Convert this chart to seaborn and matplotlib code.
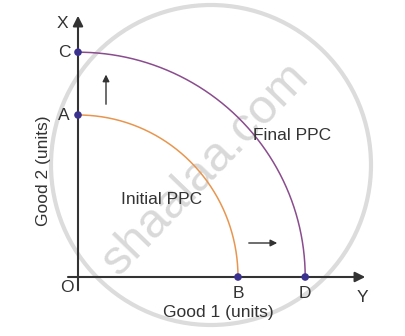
import numpy as np
import pandas as pd
import matplotlib
matplotlib.use("Agg")
import matplotlib.pyplot as plt
import seaborn as sns
from matplotlib.patches import Circle

sns.set_theme(style="white")
plt.rcParams['font.family'] = ['Liberation Sans', 'DejaVu Sans']

# ---- data (units of goods) ----
curve_names = ["Initial PPC", "Final PPC"]
good1_max = [4.0, 5.68]      # x-intercepts (B, D)
good2_max = [4.05, 5.62]     # y-intercepts (A, C)
point_labels_x = ["B", "D"]
point_labels_y = ["A", "C"]
curve_colors = ["#e8964f", "#8a4c8e"]

rows = []
t = np.linspace(0, np.pi / 2, 200)
for name, gx, gy in zip(curve_names, good1_max, good2_max):
    for tt in t:
        rows.append({"curve": name, "good1": gx * np.cos(tt), "good2": gy * np.sin(tt)})
df = pd.DataFrame(rows)

pts = pd.DataFrame({
    "good1": good1_max + [0, 0],
    "good2": [0, 0] + good2_max,
})

fig = plt.figure(figsize=(4.05, 3.36), dpi=100)
ax = fig.add_axes([0, 0, 1, 1])

# watermark
ax.add_patch(Circle((3.325, 2.8), 4.0, fill=False, ec="#dcdcdc", lw=3, zorder=0))
ax.text(3.2, 2.7, "shaalaa.com", rotation=46, fontsize=35, color="#d9d9d9",
        ha="center", va="center", zorder=0)

# axes with arrows
ax.annotate("", xy=(0, 6.6), xytext=(0, -0.4),
            arrowprops=dict(arrowstyle="-|>", color="#333333", lw=1.5,
                            mutation_scale=15), zorder=2)
ax.annotate("", xy=(7.25, 0), xytext=(-0.32, 0),
            arrowprops=dict(arrowstyle="-|>", color="#333333", lw=1.5,
                            mutation_scale=15), zorder=2)

sns.lineplot(data=df, x="good1", y="good2", hue="curve", palette=curve_colors,
             sort=False, estimator=None, lw=1.1, legend=False, ax=ax, zorder=3)
sns.scatterplot(data=pts, x="good1", y="good2", color="#3b3290", s=30,
                edgecolor="none", ax=ax, zorder=4)
ax.set_xlim(-1.95, 8.175)
ax.set_ylim(-1.475, 6.925)
ax.axis("off")

fs = 12.5
tc = "#333333"
ax.text(-0.4, 6.35, "X", fontsize=fs, color=tc, ha="center", va="center")
ax.text(7.12, -0.52, "Y", fontsize=fs, color=tc, ha="center", va="center")
ax.text(-0.28, -0.27, "O", fontsize=fs, color=tc, ha="center", va="center")
for lab, gx in zip(point_labels_x, good1_max):
    ax.text(gx, -0.42, lab, fontsize=fs, color=tc, ha="center", va="center")
for lab, gy in zip(point_labels_y, good2_max):
    ax.text(-0.35, gy, lab, fontsize=fs, color=tc, ha="center", va="center")

ax.text(3.52, -0.9, "Good 1 (units)", fontsize=fs, color=tc, ha="center", va="center")
ax.text(-0.87, 2.65, "Good 2 (units)", fontsize=fs, color=tc, ha="center",
        va="center", rotation=90)
ax.text(2.09, 1.93, "Initial PPC", fontsize=fs, color=tc, ha="center", va="center")
ax.text(5.36, 3.55, "Final PPC", fontsize=fs, color=tc, ha="center", va="center")

# shift arrows
ax.annotate("", xy=(0.7, 5.13), xytext=(0.7, 4.25),
            arrowprops=dict(arrowstyle="-|>", color="#333333", lw=1.0,
                            mutation_scale=10))
ax.annotate("", xy=(5.05, 0.85), xytext=(4.2, 0.85),
            arrowprops=dict(arrowstyle="-|>", color="#333333", lw=1.0,
                            mutation_scale=10))

fig.savefig("out.png", dpi=100)
